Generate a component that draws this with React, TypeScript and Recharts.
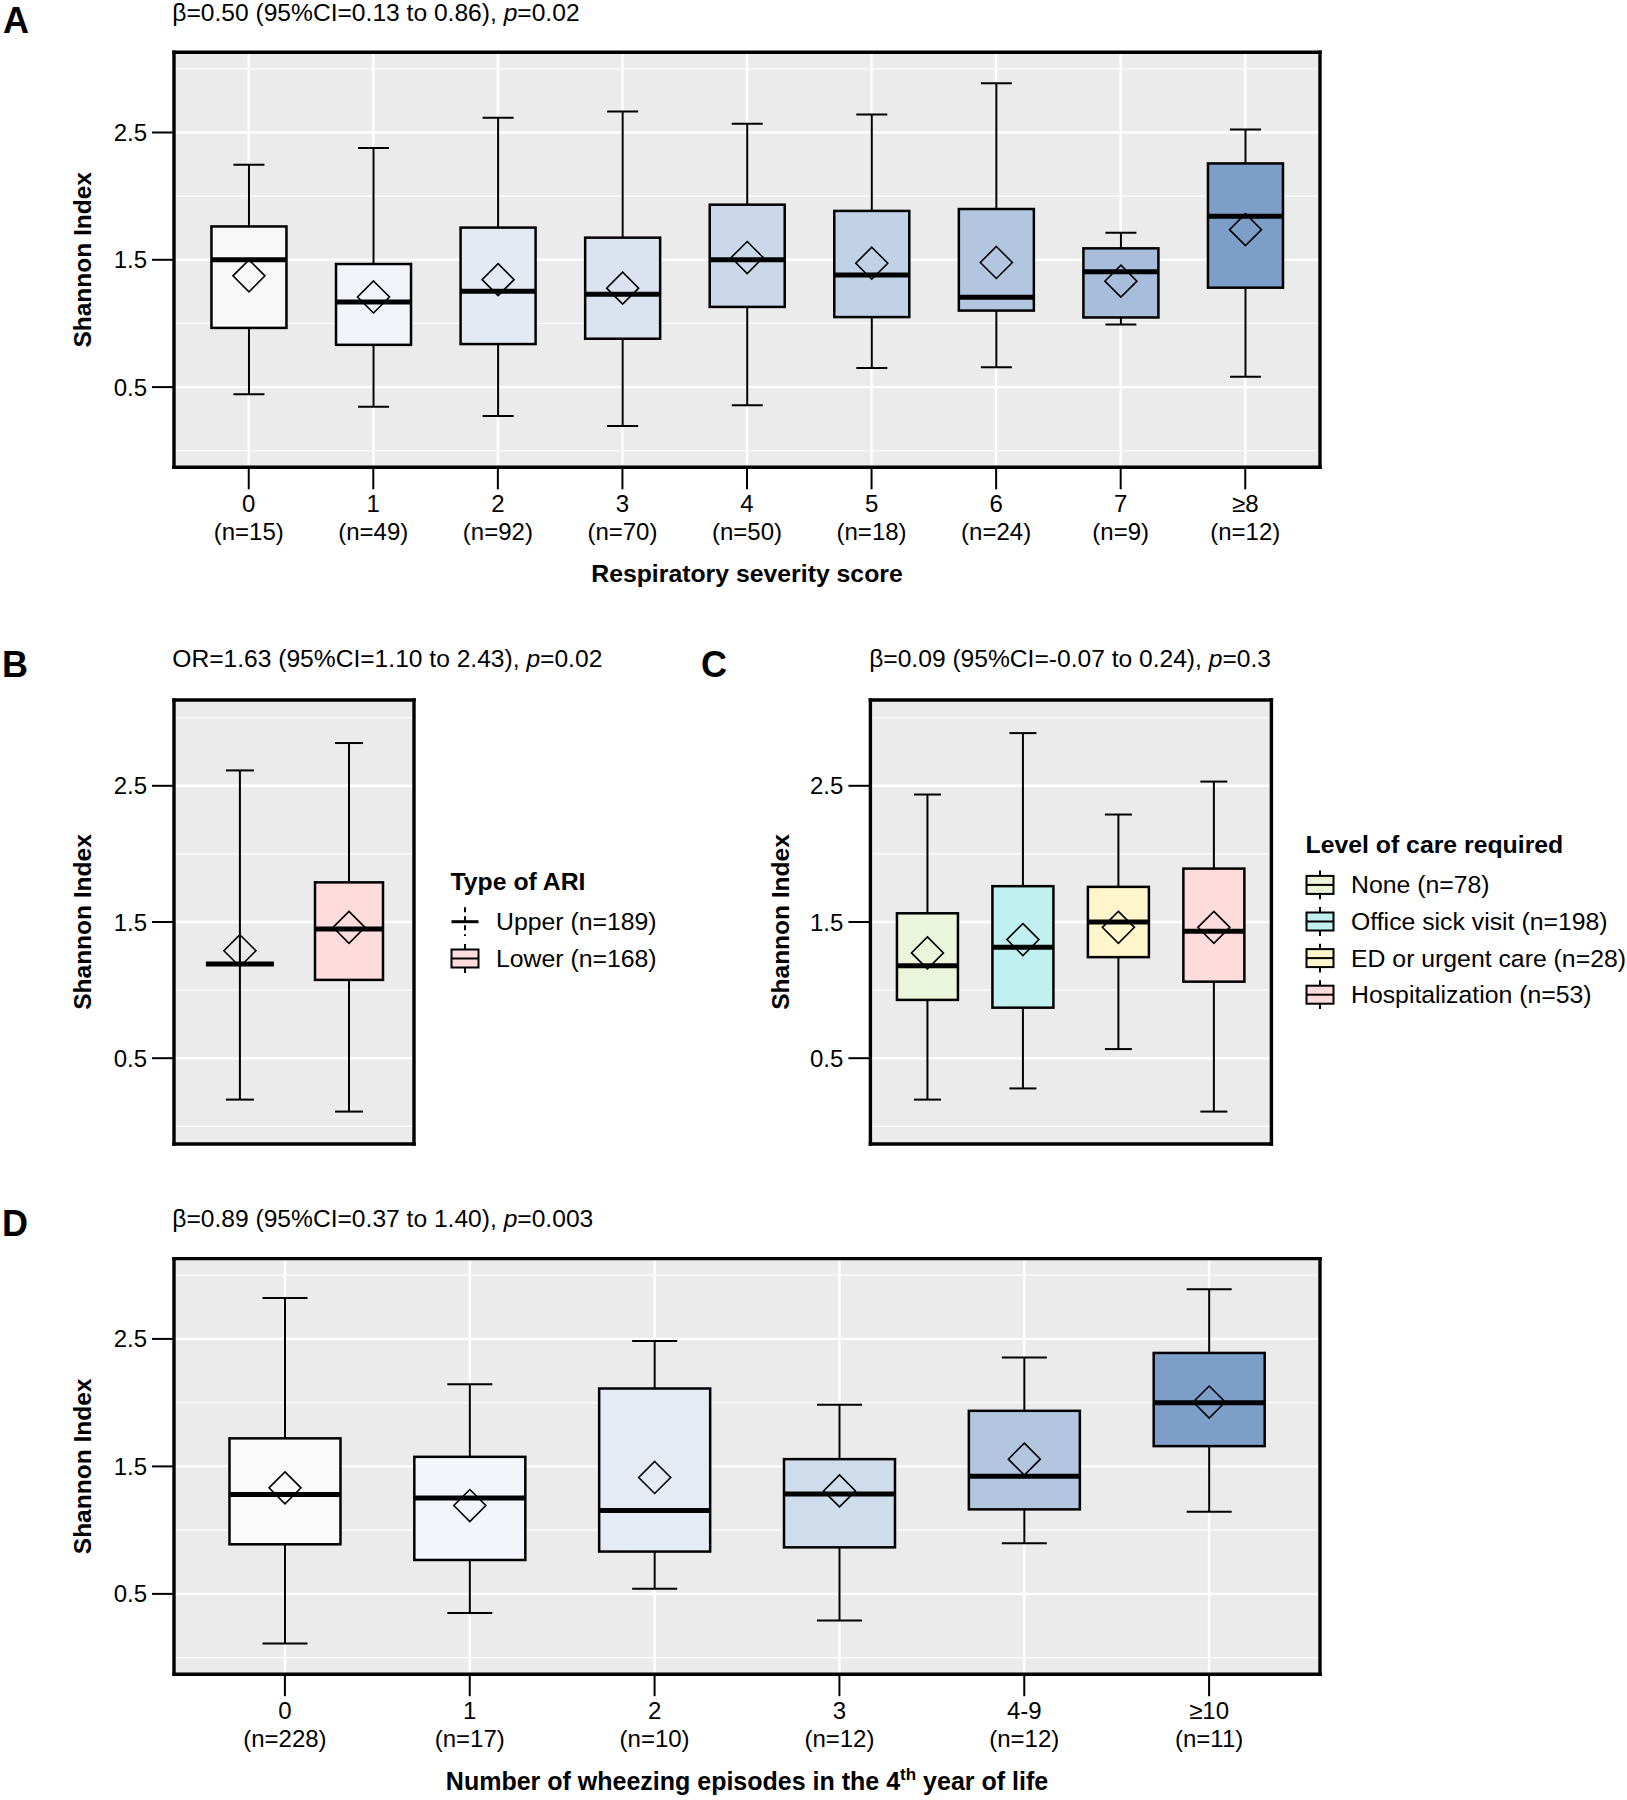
import React from 'react';
import { ComposedChart, Bar, XAxis, YAxis, CartesianGrid, Legend } from 'recharts';

const FONT = '"Liberation Sans", Arial, Helvetica, sans-serif';

// ---------- Panel A: respiratory severity score ----------
const severityLabels = ['0', '1', '2', '3', '4', '5', '6', '7', '≥8'];
const severityCounts = [15, 49, 92, 70, 50, 18, 24, 9, 12];
const severityLow = [0.444, 0.345, 0.273, 0.195, 0.357, 0.65, 0.656, 0.992, 0.581];
const severityQ1 = [0.965, 0.832, 0.838, 0.88, 1.13, 1.05, 1.101, 1.047, 1.281];
const severityMedian = [1.5, 1.169, 1.253, 1.229, 1.5, 1.38, 1.206, 1.407, 1.842];
const severityQ3 = [1.762, 1.467, 1.753, 1.674, 1.933, 1.884, 1.899, 1.59, 2.257];
const severityHigh = [2.246, 2.378, 2.616, 2.664, 2.568, 2.641, 2.887, 1.713, 2.524];
const severityMean = [1.374, 1.208, 1.344, 1.277, 1.518, 1.473, 1.479, 1.332, 1.737];
const severityFills = ['#F8F8F8', '#F1F4F9', '#E4EAF3', '#DAE3EF', '#CBD8EA', '#C1D2E7', '#B2C6E0', '#A7BDDB', '#7C9EC8'];

// ---------- Panel B: type of ARI ----------
const ariLabels = ['Upper', 'Lower'];
const ariCounts = [189, 168];
const ariLow = [0.196, 0.108];
const ariQ1 = [1.191, 1.075];
const ariMedian = [1.191, 1.448];
const ariQ3 = [1.191, 1.791];
const ariHigh = [2.613, 2.814];
const ariMean = [1.289, 1.461];
const ariFills = ['#FFFFFF', '#FFDCDC'];

// ---------- Panel C: level of care ----------
const careLabels = ['None', 'Office sick visit', 'ED or urgent care', 'Hospitalization'];
const careCounts = [78, 198, 28, 53];
const careLow = [0.196, 0.278, 0.567, 0.108];
const careQ1 = [0.928, 0.871, 1.242, 1.062];
const careMedian = [1.178, 1.314, 1.5, 1.433];
const careQ3 = [1.564, 1.763, 1.758, 1.892];
const careHigh = [2.436, 2.887, 2.289, 2.531];
const careMean = [1.273, 1.371, 1.461, 1.461];
const careFills = ['#EBF5DA', '#C0F0EF', '#FFF5CC', '#FFDCDC'];

// ---------- Panel D: wheezing episodes ----------
const wheezeLabels = ['0', '1', '2', '3', '4-9', '≥10'];
const wheezeCounts = [228, 17, 10, 12, 12, 11];
const wheezeLow = [0.111, 0.351, 0.541, 0.291, 0.898, 1.145];
const wheezeQ1 = [0.889, 0.766, 0.832, 0.865, 1.163, 1.659];
const wheezeMedian = [1.28, 1.253, 1.154, 1.283, 1.422, 1.999];
const wheezeQ3 = [1.72, 1.575, 2.111, 1.557, 1.936, 2.39];
const wheezeHigh = [2.82, 2.144, 2.483, 1.984, 2.354, 2.889];
const wheezeMean = [1.332, 1.193, 1.413, 1.308, 1.557, 2.005];
const wheezeFills = ['#FAFAFA', '#F2F5F9', '#E5EBF4', '#CFDCEC', '#B2C6E0', '#7C9EC8'];

const yTicks = [0.5, 1.5, 2.5];
const yMinor = [0, 1, 2, 3];
const yDomain: [number, number] = [-0.13, 3.13];

type Row = {
  label: string;
  n: number;
  lo: number;
  q1: number;
  median: number;
  q3: number;
  hi: number;
  mean: number;
  fill: string;
};

function buildRows(
  labels: string[], counts: number[], lo: number[], q1: number[], med: number[],
  q3: number[], hi: number[], mean: number[], fills: string[]
): Row[] {
  return labels.map((label, i) => ({
    label, n: counts[i], lo: lo[i], q1: q1[i], median: med[i], q3: q3[i], hi: hi[i], mean: mean[i], fill: fills[i],
  }));
}

const severityRows = buildRows(severityLabels, severityCounts, severityLow, severityQ1, severityMedian, severityQ3, severityHigh, severityMean, severityFills);
const ariRows = buildRows(ariLabels, ariCounts, ariLow, ariQ1, ariMedian, ariQ3, ariHigh, ariMean, ariFills);
const careRows = buildRows(careLabels, careCounts, careLow, careQ1, careMedian, careQ3, careHigh, careMean, careFills);
const wheezeRows = buildRows(wheezeLabels, wheezeCounts, wheezeLow, wheezeQ1, wheezeMedian, wheezeQ3, wheezeHigh, wheezeMean, wheezeFills);

function makeBoxShape(capWidth: number) {
  return function BoxShape(props: any) {
    const { x, y, width, height, payload } = props;
    if (!payload || x == null || y == null) return <g />;
    const yTop = Math.min(y, y + height);
    const yBot = Math.max(y, y + height);
    const span = payload.hi - payload.lo;
    const toY = (v: number) => yTop + ((payload.hi - v) / span) * (yBot - yTop);
    const cx = x + width / 2;
    const yHi = toY(payload.hi);
    const yQ3 = toY(payload.q3);
    const yMed = toY(payload.median);
    const yQ1 = toY(payload.q1);
    const yLo = toY(payload.lo);
    const yMean = toY(payload.mean);
    const d = 16;
    return (
      <g>
        <line x1={cx} x2={cx} y1={yHi} y2={yQ3} stroke="#000" strokeWidth={2} />
        <line x1={cx} x2={cx} y1={yQ1} y2={yLo} stroke="#000" strokeWidth={2} />
        <line x1={cx - capWidth / 2} x2={cx + capWidth / 2} y1={yHi} y2={yHi} stroke="#000" strokeWidth={2} />
        <line x1={cx - capWidth / 2} x2={cx + capWidth / 2} y1={yLo} y2={yLo} stroke="#000" strokeWidth={2} />
        {yQ1 - yQ3 > 0.5 && (
          <rect x={x} y={yQ3} width={width} height={yQ1 - yQ3} fill={payload.fill} stroke="#000" strokeWidth={2.5} />
        )}
        <line x1={x} x2={x + width} y1={yMed} y2={yMed} stroke="#000" strokeWidth={5} />
        <polygon
          points={`${cx},${yMean - d} ${cx + d},${yMean} ${cx},${yMean + d} ${cx - d},${yMean}`}
          fill="none"
          stroke="#000"
          strokeWidth={1.6}
        />
      </g>
    );
  };
}

function makeTwoLineTick(rows: Row[]) {
  return function TwoLineTick(props: any) {
    const { x, y, payload, index } = props;
    const row = rows[index] || rows.find((r) => r.label === payload.value);
    return (
      <text x={x} y={y} textAnchor="middle" fontSize={24} fill="#000" fontFamily={FONT}>
        <tspan x={x} dy={21}>{payload.value}</tspan>
        <tspan x={x} dy={27.5}>{`(n=${row ? row.n : ''})`}</tspan>
      </text>
    );
  };
}

type KeyProps = { cx: number; cy: number; fill: string; collapsed?: boolean };
function LegendKey({ cx, cy, fill, collapsed }: KeyProps) {
  if (collapsed) {
    return (
      <g>
        <line x1={cx} x2={cx} y1={cy - 14.4} y2={cy + 14.4} stroke="#000" strokeWidth={2} strokeDasharray="5 4" />
        <line x1={cx - 13.5} x2={cx + 13.5} y1={cy} y2={cy} stroke="#000" strokeWidth={3} />
      </g>
    );
  }
  return (
    <g>
      <line x1={cx} x2={cx} y1={cy - 14.4} y2={cy - 9} stroke="#000" strokeWidth={2} />
      <line x1={cx} x2={cx} y1={cy + 9} y2={cy + 14.4} stroke="#000" strokeWidth={2} />
      <rect x={cx - 13.5} y={cy - 9} width={27} height={18} fill={fill} stroke="#000" strokeWidth={2} />
      <line x1={cx - 13.5} x2={cx + 13.5} y1={cy} y2={cy} stroke="#000" strokeWidth={2} />
    </g>
  );
}

function makeLegend(title: string, rows: Row[], w: number, h: number, firstCy: number, step: number) {
  return function LegendContent() {
    return (
      <svg width={w} height={h} style={{ display: 'block', overflow: 'visible' }}>
        <text x={1.5} y={firstCy - 32} fontSize={24.8} fontWeight="bold" fill="#000" fontFamily={FONT}>{title}</text>
        {rows.map((r, i) => {
          const cy = firstCy + i * step;
          return (
            <g key={r.label}>
              <LegendKey cx={16} cy={cy} fill={r.fill} collapsed={r.q3 - r.q1 < 1e-6} />
              <text x={47} y={cy + 8.5} fontSize={24.8} fill="#000" fontFamily={FONT}>{`${r.label} (n=${r.n})`}</text>
            </g>
          );
        })}
      </svg>
    );
  };
}

type PanelProps = {
  rows: Row[];
  left: number;
  top: number;
  width: number;
  height: number;
  frame: { l: number; r: number; t: number; b: number };
  boxWidth: number;
  capWidth: number;
  showTicks: boolean;
  legend?: { content: any; left: number; top: number };
};

function BoxPanel({ rows, left, top, width, height, frame, boxWidth, capWidth, showTicks, legend }: PanelProps) {
  const yAxisWidth = frame.l - left;
  const xAxisHeight = top + height - frame.b;
  const plotWidth = frame.r - frame.l;
  const pad = (plotWidth / (rows.length + 0.2)) * 0.1;
  const frameLine = { stroke: '#000', strokeWidth: 3.4, strokeLinecap: 'square' as const };
  return (
    <div style={{ position: 'absolute', left, top, width, height }}>
      <ComposedChart
        width={width}
        height={height}
        data={rows}
        margin={{ top: frame.t - top - 1, right: left + width - frame.r - 1, bottom: 0, left: 0 }}
      >
        <CartesianGrid fill="#EBEBEB" stroke="#FFFFFF" strokeWidth={2.4} horizontalValues={yTicks} />
        <CartesianGrid stroke="#FFFFFF" strokeWidth={1.2} vertical={false} horizontalValues={yMinor} />
        <XAxis
          dataKey="label"
          type="category"
          interval={0}
          height={xAxisHeight}
          padding={{ left: pad, right: pad }}
          axisLine={frameLine}
          tickLine={showTicks ? { stroke: '#000', strokeWidth: 2 } : false}
          tickSize={22}
          tick={showTicks ? makeTwoLineTick(rows) : false}
        />
        <XAxis
          xAxisId="top"
          dataKey="label"
          type="category"
          orientation="top"
          interval={0}
          height={1}
          padding={{ left: pad, right: pad }}
          axisLine={frameLine}
          tick={false}
          tickLine={false}
        />
        <YAxis
          type="number"
          domain={yDomain}
          allowDataOverflow
          ticks={yTicks}
          width={yAxisWidth}
          axisLine={frameLine}
          tickLine={{ stroke: '#000', strokeWidth: 2 }}
          tickSize={22}
          tickMargin={5}
          tick={{ fontSize: 24, fill: '#000', fontFamily: FONT }}
          tickFormatter={(v: number) => v.toFixed(1)}
        />
        <YAxis
          yAxisId="right"
          orientation="right"
          type="number"
          domain={yDomain}
          allowDataOverflow
          ticks={yTicks}
          width={1}
          axisLine={frameLine}
          tick={false}
          tickLine={false}
        />
        <Bar
          dataKey={(d: Row) => [d.lo, d.hi]}
          barSize={boxWidth}
          isAnimationActive={false}
          shape={makeBoxShape(capWidth)}
        />
        {legend && (
          <Legend
            layout="vertical"
            align="center"
            verticalAlign="middle"
            content={legend.content}
            wrapperStyle={{ left: legend.left, top: legend.top, width: 'auto', height: 'auto' }}
          />
        )}
      </ComposedChart>
    </div>
  );
}

function Subtitle({ x, y, head, tail }: { x: number; y: number; head: string; tail: string }) {
  return (
    <text x={x} y={y} fontSize={24.6} fill="#000" fontFamily={FONT}>
      {head}
      <tspan fontStyle="italic">p</tspan>
      {tail}
    </text>
  );
}

function YTitle({ x, cy }: { x: number; cy: number }) {
  return (
    <text transform={`translate(${x},${cy}) rotate(-90)`} textAnchor="middle" fontSize={24.5} fontWeight="bold" fill="#000" fontFamily={FONT}>
      Shannon Index
    </text>
  );
}

function Letter({ x, y, s }: { x: number; y: number; s: string }) {
  return (
    <text x={x} y={y} fontSize={36} fontWeight="bold" fill="#000" fontFamily={FONT}>{s}</text>
  );
}

export default function App() {
  const frameA = { l: 174, r: 1320, t: 52.3, b: 467.3 };
  const frameB = { l: 174, r: 414, t: 700, b: 1144 };
  const frameC = { l: 870.4, r: 1271.4, t: 700, b: 1144 };
  const frameD = { l: 174, r: 1320, t: 1258.6, b: 1674.2 };
  return (
    <div style={{ position: 'absolute', left: 0, top: 0, width: 1627, height: 1800, background: '#fff', fontFamily: FONT }}>
      <BoxPanel rows={severityRows} left={0} top={0} width={1340} height={600} frame={frameA} boxWidth={75} capWidth={31} showTicks />
      <BoxPanel
        rows={ariRows}
        left={0}
        top={640}
        width={690}
        height={520}
        frame={frameB}
        boxWidth={68}
        capWidth={28}
        showTicks={false}
        legend={{ content: makeLegend('Type of ARI', ariRows, 230, 120, 61.7, 36.8), left: 449, top: 220 }}
      />
      <BoxPanel
        rows={careRows}
        left={700}
        top={640}
        width={927}
        height={520}
        frame={frameC}
        boxWidth={61}
        capWidth={27}
        showTicks={false}
        legend={{ content: makeLegend('Level of care required', careRows, 324, 190, 59.9, 36.6), left: 604, top: 185 }}
      />
      <BoxPanel rows={wheezeRows} left={0} top={1190} width={1340} height={610} frame={frameD} boxWidth={111} capWidth={45} showTicks />
      <svg width={1627} height={1800} style={{ position: 'absolute', left: 0, top: 0, pointerEvents: 'none' }}>
        <Letter x={3} y={33} s="A" />
        <Subtitle x={172.3} y={21} head="β=0.50 (95%CI=0.13 to 0.86), " tail="=0.02" />
        <YTitle x={91} cy={(frameA.t + frameA.b) / 2} />
        <text x={(frameA.l + frameA.r) / 2} y={582} textAnchor="middle" fontSize={24.8} fontWeight="bold" fill="#000" fontFamily={FONT}>
          Respiratory severity score
        </text>

        <Letter x={2} y={677} s="B" />
        <Subtitle x={172.3} y={667.4} head="OR=1.63 (95%CI=1.10 to 2.43), " tail="=0.02" />
        <YTitle x={91} cy={(frameB.t + frameB.b) / 2} />

        <Letter x={701} y={677} s="C" />
        <Subtitle x={869.2} y={667.4} head="β=0.09 (95%CI=-0.07 to 0.24), " tail="=0.3" />
        <YTitle x={789} cy={(frameC.t + frameC.b) / 2} />

        <Letter x={2} y={1236} s="D" />
        <Subtitle x={172.3} y={1227} head="β=0.89 (95%CI=0.37 to 1.40), " tail="=0.003" />
        <YTitle x={91} cy={(frameD.t + frameD.b) / 2} />
        <text x={(frameD.l + frameD.r) / 2} y={1790} textAnchor="middle" fontSize={25} fontWeight="bold" fill="#000" fontFamily={FONT}>
          Number of wheezing episodes in the 4
          <tspan fontSize={17} dy={-10}>th</tspan>
          <tspan dy={10}> year of life</tspan>
        </text>
      </svg>
    </div>
  );
}
